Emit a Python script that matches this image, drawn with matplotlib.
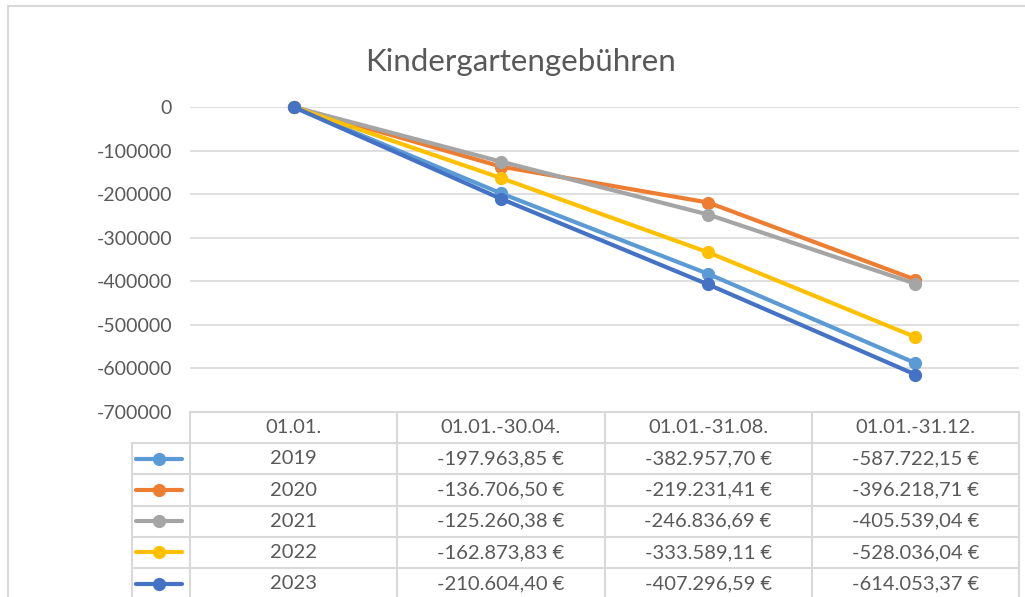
import matplotlib.pyplot as plt
from matplotlib.patches import Rectangle

# --- data ---
categories = ["01.01.", "01.01.-30.04.", "01.01.-31.08.", "01.01.-31.12."]
years = ["2019", "2020", "2021", "2022", "2023"]
v2019 = [0, -197963.85, -382957.70, -587722.15]
v2020 = [0, -136706.50, -219231.41, -396218.71]
v2021 = [0, -125260.38, -246836.69, -405539.04]
v2022 = [0, -162873.83, -333589.11, -528036.04]
v2023 = [0, -210604.40, -407296.59, -614053.37]
series = [v2019, v2020, v2021, v2022, v2023]
colors = ["#5B9BD5", "#ED7D31", "#A5A5A5", "#FFC000", "#4472C4"]
yticks = list(range(0, -700001, -100000))


def euro(v):
    s = f"{v:,.2f}".replace(",", "X").replace(".", ",").replace("X", ".")
    return s + "\u202f€"


W, H = 1025, 597
TXT = "#595959"
GRID = "#D9D9D9"
plt.rcParams["font.family"] = ["Lato", "DejaVu Sans"]

fig = plt.figure(figsize=(W / 100, H / 100), dpi=100)
fig.patch.set_facecolor("white")

# outer chart border
fig.patches.append(Rectangle((8 / W, -0.1), 1.2, 1 - 6 / H + 0.1, transform=fig.transFigure,
                             fill=False, edgecolor=GRID, linewidth=1.5))

# --- plot area ---
x_left, x_right = 190, 1019
y_top, y_bot = 107, 412
ax = fig.add_axes([x_left / W, 1 - y_bot / H, (x_right - x_left) / W, (y_bot - y_top) / H])
ax.set_xlim(-0.5, 3.5)
ax.set_ylim(-700000, 0)
ax.set_yticks(yticks)
ax.set_yticklabels([str(t) for t in yticks], fontsize=14, color=TXT)
ax.tick_params(axis="y", length=0, pad=13)
ax.set_xticks([])
for sp in ax.spines.values():
    sp.set_visible(False)
for t in yticks:
    ax.axhline(t, color=GRID, linewidth=1.2, zorder=0)

xs = range(len(categories))
for vals, c in zip(series, colors):
    ax.plot(xs, vals, color=c, linewidth=3, marker="o", markersize=8.5, clip_on=False, zorder=3)

fig.text(521 / W, 1 - 71 / H, "Kindergartengebühren", ha="center", va="baseline",
         fontsize=22.5, color=TXT)

# --- data table ---
row_h = 31.2
col_w = (x_right - x_left) / 4
leg_left = 132
tax = fig.add_axes([leg_left / W, 0, (x_right - leg_left) / W, (H - y_bot) / H])
x0 = -0.5 - (x_left - leg_left) / col_w
n_rows = (H - y_bot) / row_h
tax.set_xlim(x0, 3.5)
tax.set_ylim(n_rows, 0)
tax.axis("off")

lw = 1.5
tax.plot([-0.5, 3.5], [0, 0], color=GRID, linewidth=lw, clip_on=False)
for r in range(1, len(years) + 1):
    tax.plot([x0, 3.5], [r, r], color=GRID, linewidth=lw, clip_on=False)
for xv in [-0.5, 0.5, 1.5, 2.5, 3.5]:
    tax.plot([xv, xv], [0, n_rows + 1], color=GRID, linewidth=lw, clip_on=False)
tax.plot([x0, x0], [1, n_rows + 1], color=GRID, linewidth=lw, clip_on=False)

fs = 14.5
for i, cat in enumerate(categories):
    tax.text(i, 0.5, cat, ha="center", va="center", fontsize=fs, color=TXT)

for r, (yr, vals, c) in enumerate(zip(years, series, colors), start=1):
    lx1 = x0 + 4 / col_w
    lx2 = -0.5 - 8 / col_w
    tax.plot([lx1, lx2], [r + 0.5, r + 0.5], color=c, linewidth=3, solid_capstyle="round")
    tax.plot([(lx1 + lx2) / 2], [r + 0.5], marker="o", color=c, markersize=8.5)
    tax.text(0, r + 0.5, yr, ha="center", va="center", fontsize=fs, color=TXT)
    for i, v in enumerate(vals[1:], start=1):
        tax.text(i, r + 0.5, euro(v), ha="center", va="center", fontsize=fs, color=TXT)

fig.savefig("out.png", dpi=100)
